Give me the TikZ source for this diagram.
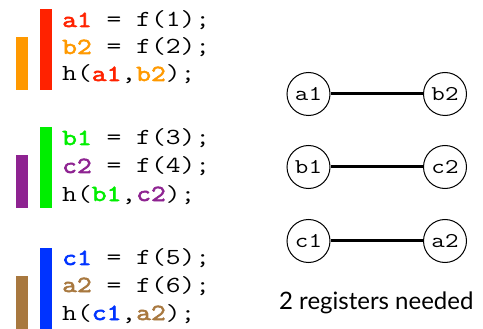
\documentclass[tikz,border=0pt]{standalone}
\usepackage{fontspec}
\newfontfamily\codefont{Latin Modern Mono}[FakeStretch=1.25, BoldFont={Latin Modern Mono}, BoldFeatures={FakeBold=2.5}]
\newfontfamily\labelfont{Lato}
\usetikzlibrary{positioning}

\definecolor{varred}{HTML}{FF2200}
\definecolor{varorange}{HTML}{FF9900}
\definecolor{vargreen}{HTML}{00EE00}
\definecolor{varpurple}{HTML}{8E2391}
\definecolor{varblue}{HTML}{0033FF}
\definecolor{varbrown}{HTML}{A8783F}

\tikzset{
  codeline/.style={anchor=base west, inner sep=0pt, font=\fontsize{23}{28}\selectfont\codefont},
  regnode/.style={draw, circle, line width=1pt, minimum size=43pt, inner sep=0pt, font=\fontsize{21}{26}\selectfont\codefont},
  interfere/.style={line width=3pt}
}
\newcommand{\var}[2]{\textcolor{#1}{\bfseries #2}}

\begin{document}
\begin{tikzpicture}[x=1pt, y=-1pt]
    \useasboundingbox (0,0) rectangle (483,329);

    % Live ranges
    \fill[varred] (40,9) rectangle (52,90);
    \fill[varorange] (16,37) rectangle (28,90);
    \fill[vargreen] (40,127) rectangle (52,208);
    \fill[varpurple] (16,155) rectangle (28,208);
    \fill[varblue] (40,248) rectangle (52,329);
    \fill[varbrown] (16,276) rectangle (28,329);

    % Code
    \node[codeline] (defa1) at (62,27) {\var{varred}{a1} = f(1);};
    \node[codeline] (defb2) at (62,54) {\var{varorange}{b2} = f(2);};
    \node[codeline] (callab) at (62,81) {h(\var{varred}{a1},\var{varorange}{b2});};

    \node[codeline] (defb1) at (62,145) {\var{vargreen}{b1} = f(3);};
    \node[codeline] (defc2) at (62,173) {\var{varpurple}{c2} = f(4);};
    \node[codeline] (callbc) at (62,201) {h(\var{vargreen}{b1},\var{varpurple}{c2});};

    \node[codeline] (defc1) at (62,265) {\var{varblue}{c1} = f(5);};
    \node[codeline] (defa2) at (62,292) {\var{varbrown}{a2} = f(6);};
    \node[codeline] (callca) at (62,320) {h(\var{varblue}{c1},\var{varbrown}{a2});};

    % Interference graph
    \node[regnode] (a1) at (308.5,94) {a1};
    \node[regnode] (b2) at (445,94) {b2};
    \node[regnode] (b1) at (308.5,167) {b1};
    \node[regnode] (c2) at (445,167) {c2};
    \node[regnode] (c1) at (308.5,241) {c1};
    \node[regnode] (a2) at (445,241) {a2};

    \draw[interfere] (a1) -- (b2);
    \draw[interfere] (b1) -- (c2);
    \draw[interfere] (c1) -- (a2);

    % Result
    \node[anchor=base west, inner sep=0pt, font=\fontsize{24}{28}\selectfont\labelfont] (result) at (279,309) {2 registers needed};
\end{tikzpicture}
\end{document}
